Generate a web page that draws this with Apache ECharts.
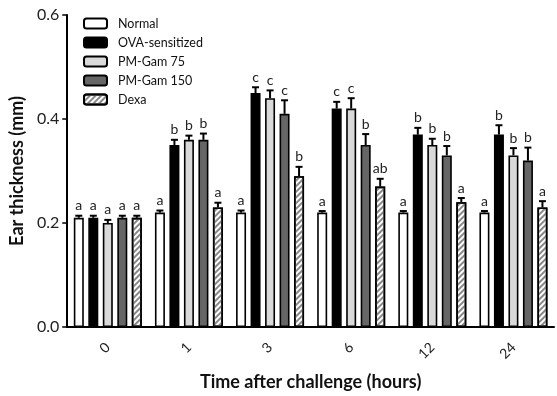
<!DOCTYPE html>
<html>
<head>
<meta charset="utf-8">
<script src="https://cdn.jsdelivr.net/npm/echarts@6/dist/echarts.min.js"></script>
<style>html,body{margin:0;padding:0;background:#fff;}#c{width:557px;height:396px;}</style>
</head>
<body>
<div id="c"></div>
<script>
const categories = ['0', '1', '3', '6', '12', '24'];
const seriesNames = ['Normal', 'OVA-sensitized', 'PM-Gam 75', 'PM-Gam 150', 'Dexa'];
const normal = [0.21, 0.22, 0.22, 0.22, 0.22, 0.22];
const normalErr = [0.004, 0.004, 0.004, 0.003, 0.003, 0.003];
const ova = [0.21, 0.35, 0.45, 0.42, 0.37, 0.37];
const ovaErr = [0.004, 0.010, 0.011, 0.013, 0.013, 0.018];
const pm75 = [0.20, 0.36, 0.44, 0.42, 0.35, 0.33];
const pm75Err = [0.006, 0.008, 0.015, 0.020, 0.012, 0.014];
const pm150 = [0.21, 0.36, 0.41, 0.35, 0.33, 0.32];
const pm150Err = [0.004, 0.012, 0.026, 0.021, 0.018, 0.025];
const dexa = [0.21, 0.23, 0.29, 0.27, 0.24, 0.23];
const dexaErr = [0.004, 0.009, 0.018, 0.015, 0.008, 0.012];
const normalLetters = ['a', 'a', 'a', 'a', 'a', 'a'];
const ovaLetters = ['a', 'b', 'c', 'c', 'b', 'b'];
const pm75Letters = ['a', 'b', 'c', 'c', 'b', 'b'];
const pm150Letters = ['a', 'b', 'c', 'b', 'b', 'b'];
const dexaLetters = ['a', 'a', 'b', 'ab', 'a', 'a'];
const yTicks = [0, 0.2, 0.4, 0.6];

const FONT = 'Lato, "Open Sans", sans-serif';
const BAR_W = 10;
const STEP = 14.5;
const means = [normal, ova, pm75, pm150, dexa];
const errs = [normalErr, ovaErr, pm75Err, pm150Err, dexaErr];
const letters = [normalLetters, ovaLetters, pm75Letters, pm150Letters, dexaLetters];
const fills = ['#ffffff', '#000000', '#d9d9d9', '#666666', '#ffffff'];

const chart = echarts.init(document.getElementById('c'), null, {renderer: 'canvas'});

const barSeries = seriesNames.map((name, s) => {
  const itemStyle = {color: fills[s], borderColor: '#000', borderWidth: 1.6};
  if (s === 4) {
    itemStyle.decal = {
      symbol: 'rect', symbolSize: 1,
      dashArrayX: [[1, 0]], dashArrayY: [2, 2],
      rotation: -Math.PI / 4, color: '#888888'
    };
  }
  return {
    name: name, type: 'bar', data: means[s],
    barWidth: BAR_W, barGap: '45%',
    itemStyle: itemStyle, silent: true, z: 2
  };
});

const errData = [];
for (let s = 0; s < 5; s++) {
  for (let i = 0; i < categories.length; i++) {
    errData.push([i, means[s][i], errs[s][i], s, letters[s][i]]);
  }
}

const errSeries = {
  type: 'custom', silent: true, z: 5,
  data: errData,
  encode: {x: 0, y: 1},
  renderItem: function (params, api) {
    const cat = api.value(0), m = api.value(1), e = api.value(2), s = api.value(3);
    const letter = errData[params.dataIndex][4];
    const base = api.coord([cat, m]);
    const top = api.coord([cat, m + e]);
    const x = base[0] + (s - 2) * STEP;
    const cap = 3.5;
    return {
      type: 'group',
      children: [
        {type: 'line', shape: {x1: x, y1: base[1], x2: x, y2: top[1]}, style: {stroke: '#000', lineWidth: 2}},
        {type: 'line', shape: {x1: x - cap, y1: top[1], x2: x + cap, y2: top[1]}, style: {stroke: '#000', lineWidth: 2}},
        {type: 'text', style: {text: letter, x: x, y: top[1] - 3, textAlign: 'center', textVerticalAlign: 'bottom', font: '14px ' + FONT, fill: '#222'}}
      ]
    };
  }
};

chart.setOption({
  animation: false,
  backgroundColor: '#fff',
  grid: {left: 67, right: 3, top: 15, bottom: 69},
  legend: {
    orient: 'vertical', left: 78, top: 12,
    itemWidth: 23, itemHeight: 10, itemGap: 6,
    data: seriesNames,
    textStyle: {fontFamily: FONT, fontSize: 12.5, color: '#111', padding: [0, 0, 0, 6]},
    selectedMode: false
  },
  xAxis: {
    type: 'category', data: categories,
    name: 'Time after challenge (hours)', nameLocation: 'middle', nameGap: 46,
    nameTextStyle: {fontFamily: FONT, fontSize: 18, fontWeight: 'bold', color: '#111'},
    axisLine: {lineStyle: {color: '#000', width: 2}},
    axisTick: {alignWithLabel: true, length: 6, lineStyle: {color: '#000', width: 1.5}},
    axisLabel: {rotate: 45, margin: 18, fontFamily: FONT, fontSize: 14, color: '#222'}
  },
  yAxis: {
    type: 'value', min: 0, max: 0.6, interval: 0.2,
    name: 'Ear thickness (mm)', nameLocation: 'middle', nameGap: 37,
    nameTextStyle: {fontFamily: FONT, fontSize: 18, fontWeight: 'bold', color: '#111'},
    axisLine: {show: true, lineStyle: {color: '#000', width: 2}},
    axisTick: {show: true, length: 5, lineStyle: {color: '#000', width: 1.5}},
    axisLabel: {fontFamily: FONT, fontSize: 16, color: '#222', margin: 8, formatter: v => v.toFixed(1)},
    splitLine: {show: false}
  },
  series: barSeries.concat([errSeries])
});
</script>
</body>
</html>
